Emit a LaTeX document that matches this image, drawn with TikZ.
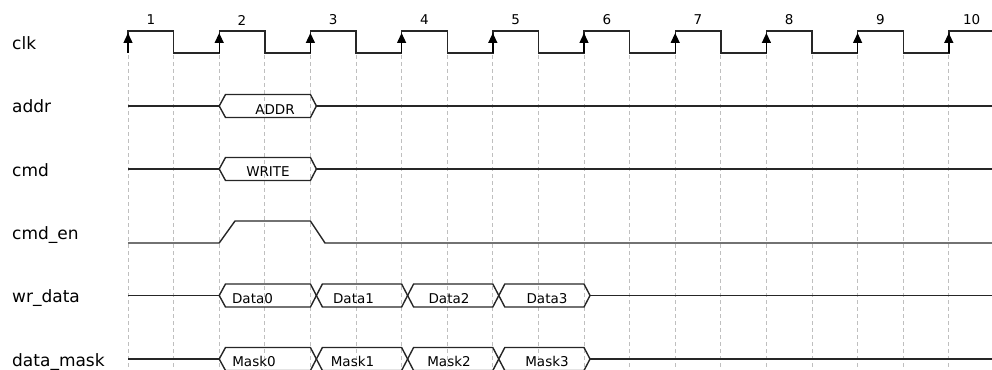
\documentclass[tikz,border=0pt]{standalone}
\usepackage{fontspec}
\setmainfont{DejaVu Sans}
\usetikzlibrary{arrows.meta}

\tikzset{
  wave/.style = {line width=1.4pt, black!85, line join=miter},
  tick/.style = {line width=0.7pt, black!25, dash pattern=on 4pt off 3pt},
  rise/.style = {-{Triangle[width=9pt, length=10pt]}, line width=1.4pt},
  sig/.style  = {anchor=base west, inner sep=0, font=\fontsize{17}{20}\selectfont},
  val/.style  = {inner sep=0, font=\fontsize{13.5}{16}\selectfont}
}

\begin{document}
\begin{tikzpicture}[x=1pt, y=-1pt]
\clip[use as bounding box] (0,0) rectangle (992,369);

% signal names
\path (12,49)  node[sig] (lclk)  {clk}
      (12,112) node[sig] (laddr) {addr}
      (12,176) node[sig] (lcmd)  {cmd}
      (12,239) node[sig] (lcmden) {cmd\_en}
      (12,302) node[sig] (lwrdata) {wr\_data}
      (12,366) node[sig] (lmask) {data\_mask};

% cycle numbers
\path (150.8,20) node[val] (n1) {1}
      (242,20)   node[val] (n2) {2}
      (333.2,20) node[val] (n3) {3}
      (424.4,20) node[val] (n4) {4}
      (515.6,20) node[val] (n5) {5}
      (606.8,20) node[val] (n6) {6}
      (698,20)   node[val] (n7) {7}
      (789.2,20) node[val] (n8) {8}
      (880.4,20) node[val] (n9) {9}
      (971.6,20) node[val] (n10) {10};

% half period grid
\draw[tick] (128,55) -- (128,369)     (173.6,55) -- (173.6,369)
            (219.2,55) -- (219.2,369) (264.8,55) -- (264.8,369)
            (310.4,55) -- (310.4,369) (356,55) -- (356,369)
            (401.6,55) -- (401.6,369) (447.2,55) -- (447.2,369)
            (492.8,55) -- (492.8,369) (538.4,55) -- (538.4,369)
            (584,55) -- (584,369)     (629.6,55) -- (629.6,369)
            (675.2,55) -- (675.2,369) (720.8,55) -- (720.8,369)
            (766.4,55) -- (766.4,369) (812,55) -- (812,369)
            (857.6,55) -- (857.6,369) (903.2,55) -- (903.2,369)
            (948.8,55) -- (948.8,369);

% clk
\draw[wave] (128,53) -- (128,31) -- (173.6,31) -- (173.6,53)
  -- (219.2,53) -- (219.2,31) -- (264.8,31) -- (264.8,53)
  -- (310.4,53) -- (310.4,31) -- (356,31) -- (356,53)
  -- (401.6,53) -- (401.6,31) -- (447.2,31) -- (447.2,53)
  -- (492.8,53) -- (492.8,31) -- (538.4,31) -- (538.4,53)
  -- (584,53) -- (584,31) -- (629.6,31) -- (629.6,53)
  -- (675.2,53) -- (675.2,31) -- (720.8,31) -- (720.8,53)
  -- (766.4,53) -- (766.4,31) -- (812,31) -- (812,53)
  -- (857.6,53) -- (857.6,31) -- (903.2,31) -- (903.2,53)
  -- (948.8,53) -- (948.8,31) -- (992,31);
\draw[rise] (128,53) -- (128,33);
\draw[rise] (219.2,53) -- (219.2,33);
\draw[rise] (310.4,53) -- (310.4,33);
\draw[rise] (401.6,53) -- (401.6,33);
\draw[rise] (492.8,53) -- (492.8,33);
\draw[rise] (584,53) -- (584,33);
\draw[rise] (675.2,53) -- (675.2,33);
\draw[rise] (766.4,53) -- (766.4,33);
\draw[rise] (857.6,53) -- (857.6,33);
\draw[rise] (948.8,53) -- (948.8,33);

% addr
\draw[wave] (128,106) -- (219.2,106);
\draw[wave] (219.2,106) -- (225.5,94.5) -- (310.4,94.5) -- (316.4,106)
  -- (310.4,117.5) -- (225.5,117.5) -- cycle;
\draw[wave] (316.4,106) -- (992,106);
\path (275,109.5) node[val] (tADDR) {ADDR};

% cmd
\draw[wave] (128,169) -- (219.2,169);
\draw[wave] (219.2,169) -- (225.5,157.5) -- (310.4,157.5) -- (316.4,169)
  -- (310.4,180.5) -- (225.5,180.5) -- cycle;
\draw[wave] (316.4,169) -- (992,169);
\path (268,172) node[val] (tWRITE) {WRITE};

% cmd_en
\draw[wave] (128,243) -- (219.2,243) -- (235,221) -- (310.4,221)
  -- (325,243) -- (992,243);

% wr_data
\draw[wave] (128,295.5) -- (219.2,295.5);
\draw[wave] (219.2,295.5) -- (225.5,284) -- (310.4,284) -- (316.4,295.5)
  -- (310.4,307) -- (225.5,307) -- cycle;
\draw[wave] (316.4,295.5) -- (322.4,284) -- (401.6,284) -- (407.6,295.5)
  -- (401.6,307) -- (322.4,307) -- cycle;
\draw[wave] (407.6,295.5) -- (413.6,284) -- (492.8,284) -- (498.8,295.5)
  -- (492.8,307) -- (413.6,307) -- cycle;
\draw[wave] (498.8,295.5) -- (504.8,284) -- (584,284) -- (590,295.5)
  -- (584,307) -- (504.8,307) -- cycle;
\draw[wave] (590,295.5) -- (992,295.5);
\path (252.5,299) node[val] (tD0) {Data0}
      (353.5,299) node[val] (tD1) {Data1}
      (449,299)   node[val] (tD2) {Data2}
      (547,299)   node[val] (tD3) {Data3};

% data_mask
\draw[wave] (128,359) -- (219.2,359);
\draw[wave] (219.2,359) -- (225.5,347.5) -- (310.4,347.5) -- (316.4,359)
  -- (310.4,370.5) -- (225.5,370.5) -- cycle;
\draw[wave] (316.4,359) -- (322.4,347.5) -- (401.6,347.5) -- (407.6,359)
  -- (401.6,370.5) -- (322.4,370.5) -- cycle;
\draw[wave] (407.6,359) -- (413.6,347.5) -- (492.8,347.5) -- (498.8,359)
  -- (492.8,370.5) -- (413.6,370.5) -- cycle;
\draw[wave] (498.8,359) -- (504.8,347.5) -- (584,347.5) -- (590,359)
  -- (584,370.5) -- (504.8,370.5) -- cycle;
\draw[wave] (590,359) -- (992,359);
\path (254,361.5)   node[val] (tM0) {Mask0}
      (352.5,361.5) node[val] (tM1) {Mask1}
      (449,361.5)   node[val] (tM2) {Mask2}
      (547,361.5)   node[val] (tM3) {Mask3};

\end{tikzpicture}
\end{document}
